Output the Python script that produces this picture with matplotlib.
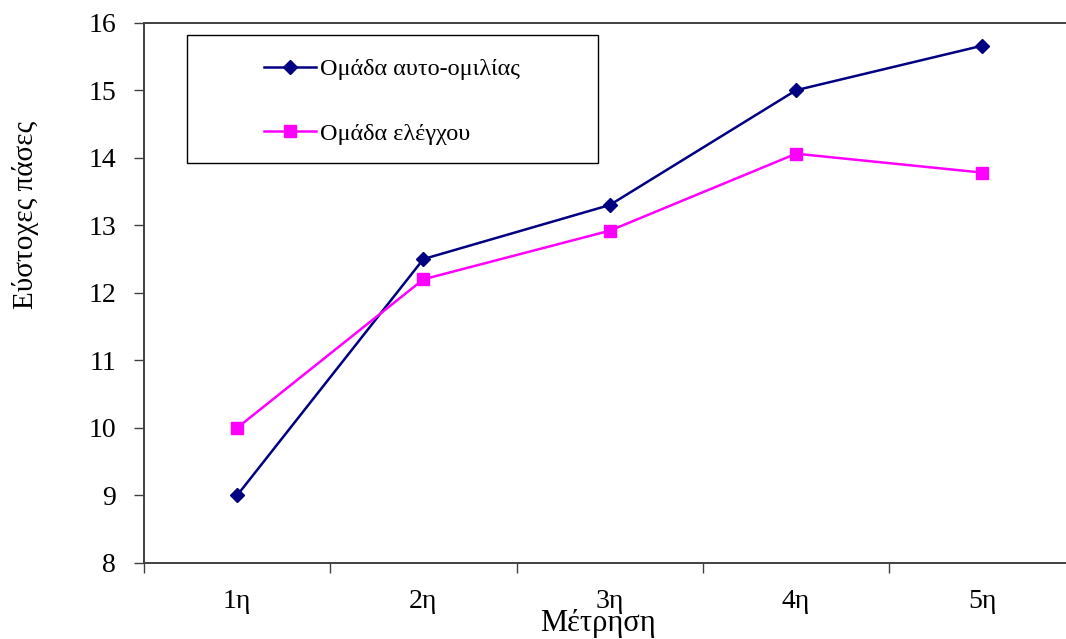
import numpy as np
import matplotlib.pyplot as plt
from matplotlib.patches import Rectangle

plt.rcParams['font.family'] = ['Liberation Serif', 'DejaVu Serif']

# data
categories = ['1η', '2η', '3η', '4η', '5η']
self_talk = [9.0, 12.5, 13.3, 15.0, 15.66]
control = [10.0, 12.2, 12.92, 14.06, 13.78]
yticks = [8, 9, 10, 11, 12, 13, 14, 15, 16]

fig = plt.figure(figsize=(10.66, 6.39), dpi=100)
ax = fig.add_axes([0.135, 0.119, 0.874, 0.8455])

x = np.arange(1, len(categories) + 1)
ax.plot(x, self_talk, color='#000080', marker='D', markersize=7, lw=1.8,
        label='Ομάδα αυτο-ομιλίας')
ax.plot(x, control, color='#FF00FF', marker='s', markersize=9, lw=1.8,
        label='Ομάδα ελέγχου')

ax.set_xlim(0.5, len(categories) + 0.5)
ax.set_ylim(8, 16)
ax.set_yticks(yticks)
ax.tick_params(axis='y', direction='out', length=7, width=1, labelsize=20, pad=13, color='#404040')

# category ticks between points, labels centred on points
ax.set_xticks(np.arange(0.5, len(categories) + 1, 1.0))
ax.set_xticklabels([])
ax.set_xticks(x, minor=True)
ax.set_xticklabels(categories, minor=True, fontsize=20)
ax.tick_params(axis='x', which='major', direction='out', length=7, width=1, color='#404040')
ax.tick_params(axis='x', which='minor', length=0, pad=19)

for s in ['left', 'top', 'bottom', 'right']:
    ax.spines[s].set_color('#404040')
    ax.spines[s].set_linewidth(1.4)

ax.set_ylabel('Εύστοχες πάσες', fontsize=21)
ax.yaxis.set_label_coords(-0.113, 0.645)
ax.set_xlabel('Μέτρηση', fontsize=22)
ax.xaxis.set_label_coords(0.487, -0.085)

# legend box
ax.add_patch(Rectangle((0.046, 0.74), 0.441, 0.238, transform=ax.transAxes,
                       fill=False, edgecolor='black', lw=1.0, zorder=5))
ax.legend(loc='upper left', bbox_to_anchor=(0.129, 0.934), frameon=False,
          fontsize=17.5, handlelength=2.15, handletextpad=0.15, labelspacing=1.75,
          borderpad=0, borderaxespad=0)

fig.savefig('out.png', dpi=100)
